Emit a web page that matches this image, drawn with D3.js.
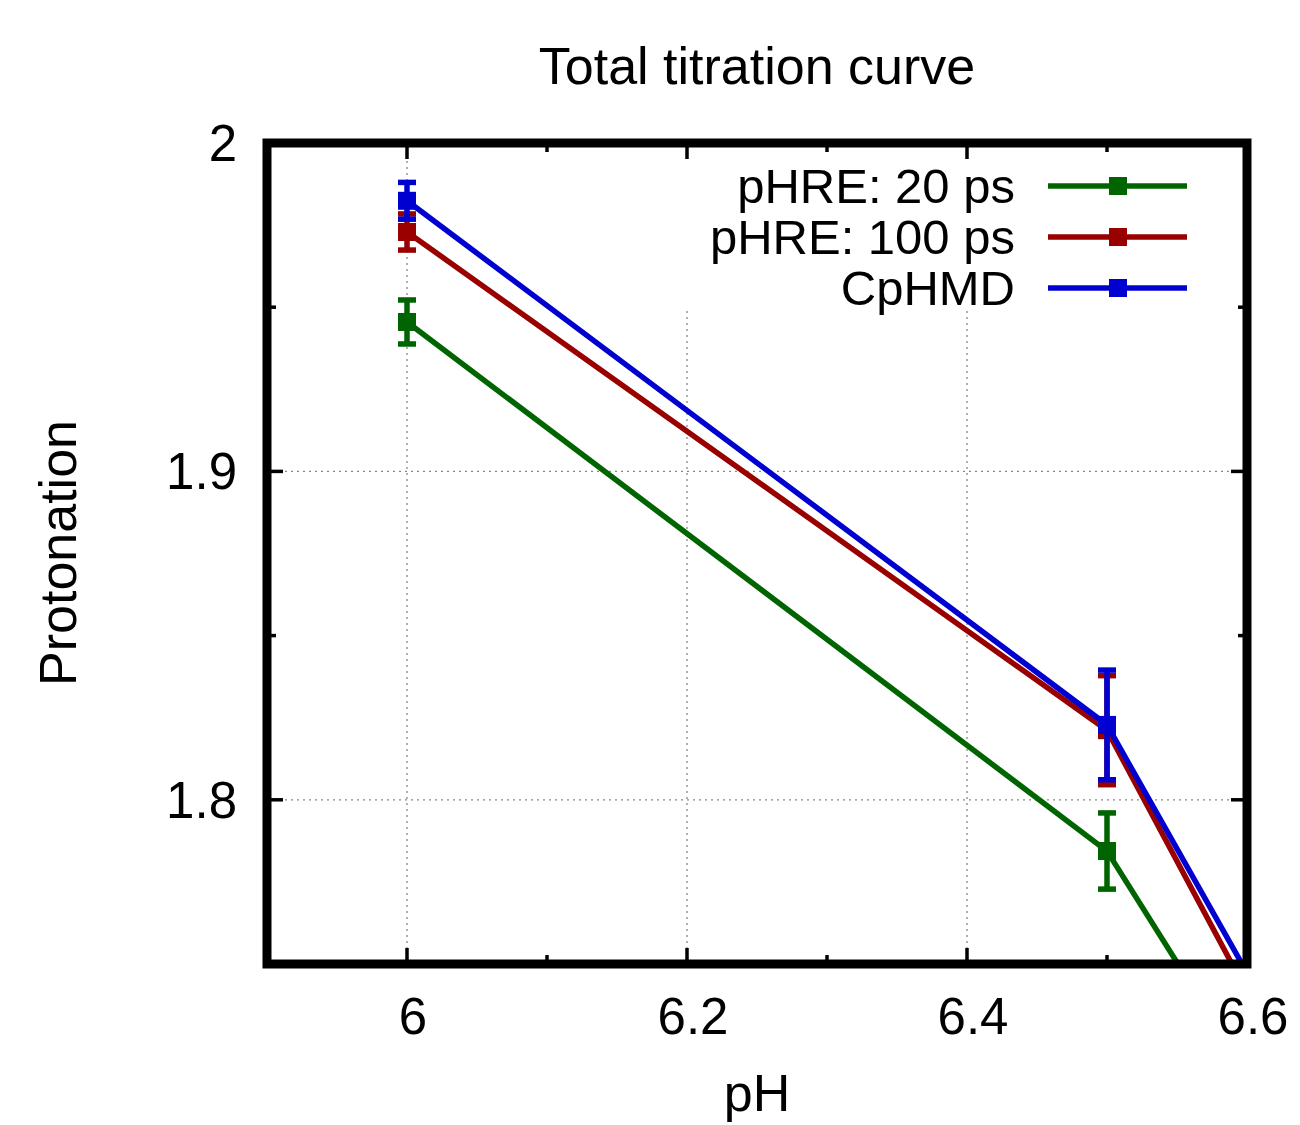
<!DOCTYPE html>
<html>
<head>
<meta charset="utf-8">
<script src="https://cdn.jsdelivr.net/npm/d3@7"></script>
<style>
  body { margin: 0; background: #fff; }
  text { font-family: "Liberation Sans", Arial, sans-serif; fill: #000; }
</style>
</head>
<body>
<script>
// data
var pH = [6.0, 6.5, 7.0];
var series = ["pHRE: 20 ps", "pHRE: 100 ps", "CpHMD"];
var colors = ["#006400", "#990000", "#0000d0"];
var protonation = [
  [1.9455, 1.7844, 1.4452],
  [1.9729, 1.8212, 1.4223],
  [1.9824, 1.8228, 1.4455]
];
var errors = [
  [0.0067, 0.0116, 0.012],
  [0.0055, 0.0166, 0.012],
  [0.0056, 0.0167, 0.012]
];
var xTicks = [6, 6.2, 6.4, 6.6];
var xMinor = [6.1, 6.3, 6.5];
var yTicks = [1.8, 1.9, 2];
var yMinor = [1.85, 1.95];

var W = 1300, H = 1125;
var margin = { top: 143, right: 53, bottom: 161, left: 267 },
  width = W - margin.left - margin.right,
  height = H - margin.top - margin.bottom;

var svg = d3.select("body").append("svg")
  .attr("width", W)
  .attr("height", H);

var x = d3.scaleLinear().domain([5.9, 6.6]).range([0, width]);
var y = d3.scaleLinear().domain([1.75, 2]).range([height, 0]);

var g = svg.append("g")
  .attr("transform", "translate(" + margin.left + "," + margin.top + ")");

g.append("clipPath").attr("id", "clip")
  .append("rect").attr("width", width).attr("height", height);

// grid
g.selectAll(".gx").data(xTicks.filter(function(d) { return d > 5.9 && d < 6.6; }))
  .enter().append("line")
  .attr("x1", d => x(d)).attr("x2", d => x(d))
  .attr("y1", 0).attr("y2", height)
  .attr("stroke", "#888").attr("stroke-width", 1.3).attr("stroke-dasharray", "2,4");
g.selectAll(".gy").data(yTicks.filter(function(d) { return d > 1.75 && d < 2; }))
  .enter().append("line")
  .attr("y1", d => y(d)).attr("y2", d => y(d))
  .attr("x1", 0).attr("x2", width)
  .attr("stroke", "#888").attr("stroke-width", 1.3).attr("stroke-dasharray", "2,4");

// legend box hides grid behind it
g.append("rect")
  .attr("x", 410).attr("y", 0)
  .attr("width", width - 410).attr("height", 168)
  .attr("fill", "#fff");

// ticks on all four sides
function ticks(vals, len) {
  vals.forEach(function(v) {
    g.append("line").attr("x1", x(v)).attr("x2", x(v)).attr("y1", height).attr("y2", height - len)
      .attr("stroke", "#000").attr("stroke-width", 3.5);
    g.append("line").attr("x1", x(v)).attr("x2", x(v)).attr("y1", 0).attr("y2", len)
      .attr("stroke", "#000").attr("stroke-width", 3.5);
  });
}
ticks(xTicks, 16);
ticks(xMinor, 9);
function yticks(vals, len) {
  vals.forEach(function(v) {
    g.append("line").attr("y1", y(v)).attr("y2", y(v)).attr("x1", 0).attr("x2", len)
      .attr("stroke", "#000").attr("stroke-width", 3.5);
    g.append("line").attr("y1", y(v)).attr("y2", y(v)).attr("x1", width).attr("x2", width - len)
      .attr("stroke", "#000").attr("stroke-width", 3.5);
  });
}
yticks(yTicks, 16);
yticks(yMinor, 9);

// series
var line = d3.line()
  .x(function(d) { return x(d[0]); })
  .y(function(d) { return y(d[1]); });

var plot = g.append("g").attr("clip-path", "url(#clip)");
var cap = 9, sq = 18, lw = 5.5;

series.forEach(function(name, i) {
  var pts = pH.map(function(p, j) { return [p, protonation[i][j], errors[i][j]]; });
  var c = colors[i];
  plot.append("path")
    .datum(pts)
    .attr("fill", "none")
    .attr("stroke", c)
    .attr("stroke-width", lw)
    .attr("d", line);
  pts.forEach(function(d) {
    var px = x(d[0]), y0 = y(d[1] - d[2]), y1 = y(d[1] + d[2]);
    plot.append("line").attr("x1", px).attr("x2", px).attr("y1", y0).attr("y2", y1)
      .attr("stroke", c).attr("stroke-width", 5.5);
    plot.append("line").attr("x1", px - cap).attr("x2", px + cap).attr("y1", y0).attr("y2", y0)
      .attr("stroke", c).attr("stroke-width", 5.5);
    plot.append("line").attr("x1", px - cap).attr("x2", px + cap).attr("y1", y1).attr("y2", y1)
      .attr("stroke", c).attr("stroke-width", 5.5);
    plot.append("rect").attr("x", px - sq / 2).attr("y", y(d[1]) - sq / 2)
      .attr("width", sq).attr("height", sq).attr("fill", c);
  });
});

// legend
series.forEach(function(name, i) {
  var ly = 43 + i * 51;
  g.append("text")
    .attr("x", 748).attr("y", ly).attr("dy", "0.35em")
    .attr("text-anchor", "end")
    .style("font-size", "49px")
    .text(name);
  g.append("line").attr("x1", 781).attr("x2", 920).attr("y1", ly).attr("y2", ly)
    .attr("stroke", colors[i]).attr("stroke-width", lw);
  g.append("rect").attr("x", 851 - sq / 2).attr("y", ly - sq / 2)
    .attr("width", sq).attr("height", sq).attr("fill", colors[i]);
});

// frame
g.append("rect")
  .attr("width", width).attr("height", height)
  .attr("fill", "none").attr("stroke", "#000").attr("stroke-width", 9);

// tick labels
xTicks.forEach(function(v) {
  g.append("text").attr("x", x(v) + 6).attr("y", height + 70)
    .attr("text-anchor", "middle").style("font-size", "51px")
    .text(d3.format("")(v));
});
yTicks.forEach(function(v) {
  g.append("text").attr("x", -30).attr("y", y(v)).attr("dy", "0.35em")
    .attr("text-anchor", "end").style("font-size", "51px")
    .text(d3.format("")(v));
});

// titles
svg.append("text").attr("x", 757).attr("y", 84)
  .attr("text-anchor", "middle").style("font-size", "52px")
  .text("Total titration curve");
svg.append("text").attr("x", 757).attr("y", 1111)
  .attr("text-anchor", "middle").style("font-size", "52px")
  .text("pH");
svg.append("text")
  .attr("transform", "translate(76,553) rotate(-90)")
  .attr("text-anchor", "middle").style("font-size", "52px")
  .text("Protonation");
</script>
</body>
</html>
